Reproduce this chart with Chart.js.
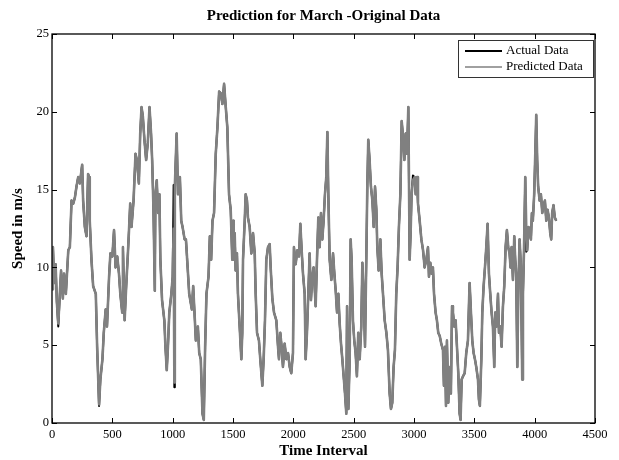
<!DOCTYPE html>
<html>
<head>
<meta charset="utf-8">
<script src="https://cdn.jsdelivr.net/npm/chart.js@4.4.0/dist/chart.umd.min.js"></script>
<style>
  html, body { margin: 0; padding: 0; background: #fff; }
</style>
</head>
<body>
<canvas id="speedChart" width="619" height="460"></canvas>
<script>
// time index (x) shared by both series
const timeIdx = [
  0, 8, 18, 30, 40, 52, 75, 90, 100, 115,
  135, 148, 162, 176, 190, 203, 217, 231, 250, 258,
  272, 286, 299, 308, 313, 327, 341, 363, 374, 390,
  401, 418, 429, 445, 456, 473, 484, 500, 514, 527,
  541, 555, 566, 582, 588, 602, 615, 629, 637, 648,
  659, 676, 692, 703, 720, 731, 742, 753, 766, 780,
  794, 808, 821, 830, 841, 852, 857, 868, 879, 890,
  898, 912, 931, 940, 951, 962, 972, 989, 1000, 1008,
  1014, 1018, 1033, 1044, 1060, 1071, 1082, 1099, 1110, 1124,
  1137, 1159, 1170, 1184, 1192, 1209, 1220, 1233, 1247, 1258,
  1269, 1280, 1297, 1308, 1319, 1330, 1343, 1357, 1371, 1385,
  1398, 1412, 1426, 1440, 1453, 1467, 1481, 1494, 1500, 1506,
  1514, 1522, 1533, 1541, 1555, 1569, 1577, 1583, 1597, 1605,
  1616, 1624, 1638, 1652, 1666, 1680, 1688, 1699, 1715, 1726,
  1743, 1754, 1765, 1776, 1790, 1804, 1812, 1826, 1840, 1859,
  1873, 1881, 1892, 1903, 1914, 1928, 1942, 1956, 1970, 1983,
  1997, 2005, 2019, 2033, 2047, 2058, 2069, 2080, 2094, 2102,
  2113, 2124, 2135, 2146, 2157, 2168, 2185, 2196, 2207, 2218,
  2229, 2240, 2251, 2262, 2273, 2282, 2290, 2301, 2315, 2329,
  2340, 2351, 2362, 2373, 2384, 2395, 2406, 2417, 2428, 2439,
  2445, 2456, 2467, 2475, 2483, 2494, 2505, 2516, 2527, 2538,
  2550, 2563, 2572, 2583, 2594, 2605, 2613, 2621, 2632, 2643,
  2655, 2666, 2677, 2688, 2696, 2707, 2721, 2732, 2743, 2757,
  2771, 2784, 2798, 2809, 2820, 2831, 2842, 2853, 2864, 2875,
  2887, 2898, 2909, 2920, 2931, 2942, 2953, 2964, 2972, 2980,
  2991, 3006, 3014, 3025, 3033, 3047, 3061, 3075, 3088, 3102,
  3116, 3124, 3135, 3146, 3157, 3166, 3179, 3190, 3201, 3213,
  3226, 3240, 3248, 3257, 3265, 3273, 3284, 3295, 3306, 3315,
  3323, 3334, 3345, 3356, 3367, 3378, 3386, 3395, 3406, 3420,
  3433, 3447, 3455, 3461, 3472, 3483, 3494, 3505, 3516, 3530,
  3538, 3546, 3558, 3566, 3577, 3588, 3599, 3610, 3621, 3632,
  3643, 3654, 3665, 3673, 3684, 3696, 3704, 3715, 3726, 3737,
  3748, 3759, 3770, 3781, 3792, 3800, 3809, 3820, 3831, 3839,
  3847, 3856, 3864, 3875, 3886, 3897, 3903, 3911, 3922, 3930,
  3938, 3949, 3960, 3969, 3977, 3985, 3996, 4005, 4013, 4021,
  4029, 4041, 4052, 4063, 4074, 4085, 4096, 4107, 4118, 4129,
  4137, 4145, 4156, 4167, 4179
];

const predictedSpeed = [
  8.6, 11.3, 9.0, 10.2, 7.8, 6.4, 9.8, 8.0, 9.6, 8.3,
  11.1, 11.3, 14.3, 14.1, 14.5, 15.2, 15.8, 15.4, 16.6, 14.3,
  12.6, 12.0, 16.0, 15.8, 13.0, 10.5, 8.8, 8.3, 4.9, 1.2,
  2.8, 4.1, 5.8, 7.3, 6.2, 9.4, 10.9, 10.7, 12.4, 10.0,
  10.7, 9.6, 8.3, 7.1, 11.3, 6.6, 8.8, 10.9, 12.2, 14.1,
  12.6, 14.3, 17.3, 16.9, 15.4, 18.6, 20.3, 19.7, 18.2, 16.9,
  18.0, 20.3, 18.6, 16.9, 13.7, 8.5, 14.7, 15.6, 13.5, 14.7,
  10.5, 7.9, 6.6, 4.9, 3.4, 5.1, 7.1, 8.3, 9.4, 12.5,
  2.6, 15.2, 18.6, 14.7, 15.8, 13.0, 12.6, 11.8, 11.8, 10.0,
  8.3, 7.3, 8.8, 6.6, 5.3, 6.2, 4.5, 4.1, 0.6, 0.2,
  4.9, 8.3, 9.4, 12.0, 10.5, 13.0, 13.5, 17.3, 19.0, 21.3,
  21.2, 20.5, 21.8, 20.3, 19.0, 14.7, 13.7, 10.5, 13.0, 10.5,
  12.2, 9.8, 10.9, 8.3, 6.2, 4.1, 5.8, 10.5, 13.0, 14.7,
  14.3, 13.2, 12.6, 10.9, 12.2, 10.9, 8.3, 5.8, 5.3, 4.1,
  2.4, 4.1, 6.6, 10.5, 11.3, 11.5, 10.0, 8.0, 7.1, 6.6,
  4.9, 4.1, 5.8, 4.9, 3.6, 5.1, 4.1, 4.5, 3.6, 3.2,
  4.5, 11.3, 10.2, 11.1, 10.7, 12.8, 11.1, 9.6, 8.3, 4.1,
  5.8, 8.3, 10.9, 7.9, 9.4, 10.0, 7.5, 10.5, 13.2, 11.3,
  13.5, 11.8, 13.0, 14.7, 15.8, 18.7, 14.7, 10.5, 9.2, 10.9,
  9.6, 8.5, 7.1, 8.3, 6.4, 5.1, 4.1, 3.0, 1.9, 0.6,
  7.5, 0.9, 4.1, 11.8, 10.5, 6.6, 5.3, 4.5, 3.0, 5.8,
  4.1, 6.2, 10.3, 8.3, 4.9, 10.7, 15.2, 18.2, 16.9, 15.2,
  14.3, 12.6, 15.2, 13.7, 11.3, 9.8, 11.8, 9.6, 8.3, 6.6,
  5.8, 4.7, 1.9, 0.9, 1.3, 3.6, 4.7, 8.3, 10.0, 12.6,
  14.7, 19.4, 18.4, 16.9, 18.6, 17.3, 20.3, 10.5, 12.2, 14.7,
  15.6, 15.8, 14.7, 15.8, 14.1, 13.0, 11.8, 11.1, 10.0, 10.5,
  11.3, 9.4, 10.3, 9.6, 10.0, 8.3, 7.1, 6.6, 5.8, 5.6,
  5.1, 4.7, 2.4, 4.9, 1.1, 5.3, 1.3, 3.6, 1.9, 7.5,
  7.1, 6.2, 6.6, 4.9, 3.2, 0.6, 0.2, 2.8, 3.0, 3.2,
  4.5, 5.3, 7.5, 9.0, 7.1, 5.3, 4.5, 4.1, 3.6, 2.8,
  1.5, 1.1, 4.1, 7.1, 8.8, 10.0, 11.3, 12.8, 9.6, 8.3,
  7.1, 6.2, 3.6, 7.1, 6.2, 8.3, 5.8, 6.2, 4.9, 7.5,
  8.8, 11.3, 12.4, 11.3, 10.9, 10.0, 11.3, 9.2, 12.0, 10.5,
  9.6, 3.6, 8.3, 11.8, 10.0, 2.8, 8.3, 10.9, 15.8, 12.6,
  11.1, 12.6, 12.2, 11.8, 13.5, 13.0, 14.7, 17.3, 19.8, 16.9,
  15.2, 14.3, 14.7, 13.5, 14.0, 14.3, 13.0, 13.7, 13.2, 12.2,
  11.8, 13.5, 14.0, 13.2, 13.0
];

// measured series, mostly hidden under the prediction
const actualSpeed = [
  8.6, 11.3, 9.0, 10.2, 7.8, 6.2, 9.8, 8.0, 9.6, 8.3,
  11.1, 11.3, 14.3, 14.1, 14.5, 15.2, 15.8, 15.4, 16.6, 14.3,
  12.6, 12.0, 16.0, 15.8, 13.0, 10.5, 8.8, 8.3, 4.9, 1.1,
  2.8, 4.1, 5.8, 7.3, 6.2, 9.4, 10.9, 10.7, 12.4, 10.0,
  10.7, 9.6, 8.3, 7.1, 11.3, 6.6, 8.8, 10.9, 12.2, 14.1,
  12.6, 14.3, 17.3, 16.9, 15.4, 18.6, 20.3, 19.7, 18.2, 16.9,
  18.0, 20.3, 18.6, 16.9, 13.7, 8.5, 14.7, 15.6, 13.5, 14.7,
  10.5, 7.9, 6.6, 4.9, 3.4, 5.1, 7.1, 8.3, 9.4, 15.3,
  2.3, 15.2, 18.6, 14.7, 15.8, 13.0, 12.6, 11.8, 11.8, 10.0,
  8.3, 7.3, 8.8, 6.6, 5.3, 6.2, 4.5, 4.1, 0.6, 0.2,
  4.9, 8.3, 9.4, 12.0, 10.5, 13.0, 13.5, 17.3, 19.0, 21.3,
  21.2, 20.5, 21.8, 20.3, 19.0, 14.7, 13.7, 10.5, 13.0, 10.5,
  12.2, 9.8, 10.9, 8.3, 6.2, 4.1, 5.8, 10.5, 13.0, 14.7,
  14.3, 13.2, 12.6, 10.9, 12.2, 10.9, 8.3, 5.8, 5.3, 4.1,
  2.4, 4.1, 6.6, 10.5, 11.3, 11.5, 10.0, 8.0, 7.1, 6.6,
  4.9, 4.1, 5.8, 4.9, 3.6, 5.1, 4.1, 4.5, 3.6, 3.2,
  4.5, 11.3, 10.2, 11.1, 10.7, 12.8, 11.1, 9.6, 8.3, 4.1,
  5.8, 8.3, 10.9, 7.9, 9.4, 10.0, 7.5, 10.5, 13.2, 11.3,
  13.5, 11.8, 13.0, 14.7, 15.8, 18.7, 14.7, 10.5, 9.2, 10.9,
  9.6, 8.5, 7.1, 8.3, 6.4, 5.1, 4.1, 3.0, 1.9, 0.6,
  7.5, 0.9, 4.1, 11.8, 10.5, 6.6, 5.3, 4.5, 3.0, 5.8,
  4.1, 6.2, 10.3, 8.3, 4.9, 10.7, 15.2, 18.2, 16.9, 15.2,
  14.3, 12.6, 15.2, 13.7, 11.3, 9.8, 11.8, 9.6, 8.3, 6.6,
  5.8, 4.7, 1.9, 0.9, 1.3, 3.6, 4.7, 8.3, 10.0, 12.6,
  14.7, 19.4, 18.4, 16.9, 18.6, 17.3, 20.3, 10.5, 12.2, 14.7,
  15.9, 15.8, 14.7, 15.8, 14.1, 13.0, 11.8, 11.1, 10.0, 10.5,
  11.3, 9.4, 10.3, 9.6, 10.0, 8.3, 7.1, 6.6, 5.8, 5.6,
  5.1, 4.7, 2.4, 4.9, 1.1, 5.3, 1.3, 3.6, 1.9, 7.5,
  7.1, 6.2, 6.6, 4.9, 3.2, 0.6, 0.2, 2.8, 3.0, 3.2,
  4.5, 5.3, 7.5, 9.0, 7.1, 5.3, 4.5, 4.1, 3.6, 2.8,
  1.5, 1.1, 4.1, 7.1, 8.8, 10.0, 11.3, 12.8, 9.6, 8.3,
  7.1, 6.2, 3.6, 7.1, 6.2, 8.3, 5.8, 6.2, 4.9, 7.5,
  8.8, 11.3, 12.4, 11.3, 10.9, 10.0, 11.3, 9.2, 12.0, 10.5,
  9.6, 3.6, 8.3, 11.8, 10.0, 2.8, 8.3, 10.9, 15.8, 11.0,
  11.1, 12.6, 12.2, 11.8, 13.5, 13.0, 14.7, 17.3, 19.8, 16.9,
  15.2, 14.3, 14.7, 13.5, 14.0, 14.3, 13.0, 13.7, 13.2, 12.2,
  11.8, 13.5, 14.0, 13.2, 13.0
];

const xTicks = [0, 500, 1000, 1500, 2000, 2500, 3000, 3500, 4000, 4500];
const yTicks = [0, 5, 10, 15, 20, 25];
const seriesNames = ['Actual Data', 'Predicted Data'];
const seriesColors = ['#000000', '#808080'];

const serif = '"Liberation Serif", "Times New Roman", serif';

function toPoints(ys) {
  return timeIdx.map((t, i) => ({ x: t, y: ys[i] }));
}

// matlab style box: frame, inward ticks on all four sides, boxed legend
const matlabBox = {
  id: 'matlabBox',
  afterDraw(chart) {
    const { ctx, chartArea: a, scales: { x, y } } = chart;
    ctx.save();
    ctx.strokeStyle = '#000';
    ctx.lineWidth = 1.3;
    ctx.strokeRect(a.left, a.top, a.right - a.left, a.bottom - a.top);

    ctx.lineWidth = 1;
    ctx.beginPath();
    xTicks.forEach(v => {
      const px = Math.round(x.getPixelForValue(v)) + 0.5;
      ctx.moveTo(px, a.bottom); ctx.lineTo(px, a.bottom - 5);
      ctx.moveTo(px, a.top); ctx.lineTo(px, a.top + 5);
    });
    yTicks.forEach(v => {
      const py = Math.round(y.getPixelForValue(v)) + 0.5;
      ctx.moveTo(a.left, py); ctx.lineTo(a.left + 5, py);
      ctx.moveTo(a.right, py); ctx.lineTo(a.right - 5, py);
    });
    ctx.stroke();

    // legend
    const bx = a.right - 137, by = a.top + 6, bw = 135, bh = 37;
    ctx.fillStyle = '#fff';
    ctx.fillRect(bx, by, bw, bh);
    ctx.strokeStyle = '#333';
    ctx.lineWidth = 1;
    ctx.strokeRect(bx + 0.5, by + 0.5, bw, bh);
    ctx.font = '13px ' + serif;
    ctx.textBaseline = 'middle';
    ctx.textAlign = 'left';
    seriesNames.forEach((name, i) => {
      const ly = by + 11 + i * 16;
      ctx.strokeStyle = seriesColors[i];
      ctx.lineWidth = i === 0 ? 2 : 1.5;
      ctx.beginPath();
      ctx.moveTo(bx + 7, ly); ctx.lineTo(bx + 44, ly);
      ctx.stroke();
      ctx.fillStyle = '#000';
      ctx.fillText(name, bx + 48, ly);
    });
    ctx.restore();
  }
};

new Chart(document.getElementById('speedChart'), {
  type: 'line',
  data: {
    datasets: [{
      label: seriesNames[0],
      data: toPoints(actualSpeed),
      borderColor: seriesColors[0],
      borderWidth: 2,
      order: 2
    }, {
      label: seriesNames[1],
      data: toPoints(predictedSpeed),
      borderColor: seriesColors[1],
      borderWidth: 2.6,
      order: 1
    }]
  },
  plugins: [matlabBox],
  options: {
    responsive: false,
    devicePixelRatio: 1,
    animation: false,
    layout: { padding: { top: 0, right: 24, bottom: 0, left: 0 } },
    elements: {
      point: { radius: 0 },
      line: { tension: 0, fill: false, borderJoinStyle: 'round' }
    },
    plugins: {
      legend: { display: false },
      tooltip: { enabled: false },
      title: {
        display: true,
        fullSize: false,
        text: 'Prediction for March -Original Data',
        color: '#000',
        font: { family: serif, size: 15, weight: 'bold', lineHeight: 1.2 },
        padding: { top: 7, bottom: 9 }
      }
    },
    scales: {
      x: {
        type: 'linear',
        min: 0,
        max: 4500,
        afterBuildTicks: s => { s.ticks = xTicks.map(v => ({ value: v })); },
        afterFit: s => { s.height = 37; },
        grid: { display: false, drawTicks: false },
        border: { display: false },
        ticks: {
          autoSkip: false, maxRotation: 0, padding: 4,
          color: '#000', font: { family: serif, size: 12.5 },
          callback: v => String(v)
        },
        title: {
          display: true, text: 'Time Interval', color: '#000',
          font: { family: serif, size: 15, weight: 'bold', lineHeight: 1.2 },
          padding: { top: 0, bottom: 0 }
        }
      },
      y: {
        min: 0,
        max: 25,
        afterBuildTicks: s => { s.ticks = yTicks.map(v => ({ value: v })); },
        afterFit: s => { s.width = 52; },
        grid: { display: false, drawTicks: false },
        border: { display: false },
        ticks: {
          padding: 3, color: '#000', font: { family: serif, size: 12.5 },
          callback: v => String(v)
        },
        title: {
          display: true, text: 'Speed in m/s', color: '#000',
          font: { family: serif, size: 15, weight: 'bold', lineHeight: 1.2 },
          padding: { top: 9, bottom: 0 }
        }
      }
    }
  }
});
</script>
</body>
</html>
